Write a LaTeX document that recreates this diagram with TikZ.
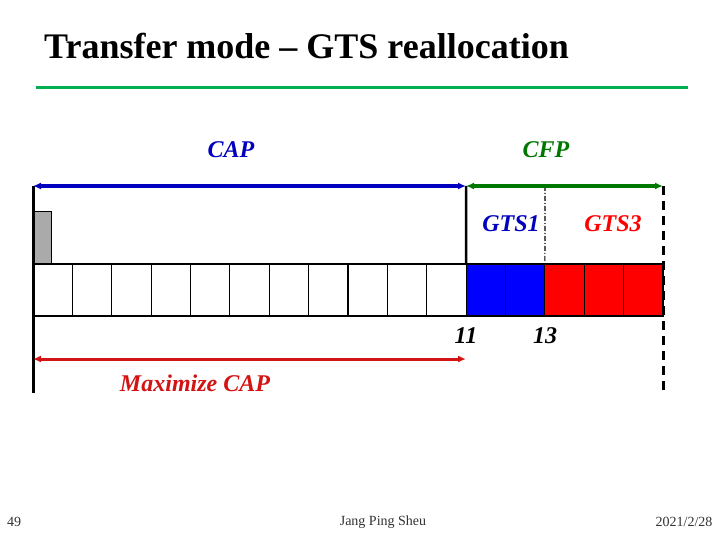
\documentclass[tikz,border=0pt]{standalone}
\usepackage{fontspec}
\setmainfont{Liberation Serif}
\usetikzlibrary{arrows.meta,positioning,calc}
\definecolor{capblue}{RGB}{0,0,190}
\definecolor{slotblue}{RGB}{0,0,255}
\definecolor{slotred}{RGB}{255,0,0}
\definecolor{cfpgreen}{RGB}{0,120,0}
\definecolor{titlegreen}{RGB}{0,176,80}
\definecolor{maxred}{RGB}{210,20,20}
\definecolor{grayslot}{RGB}{170,170,170}
\begin{document}
\begin{tikzpicture}[x=1pt,y=-1pt,
  slot/.style={draw=black,line width=1.1pt,minimum width=39.375pt,minimum height=52pt,inner sep=0pt,outer sep=0pt,anchor=north west},
  lbl/.style={font=\fontsize{24}{26}\selectfont\bfseries\itshape,inner sep=0pt},
  dbl/.style={{Latex[length=8pt,width=7pt]}-{Latex[length=8pt,width=7pt]},line width=3.2pt},
  foot/.style={font=\fontsize{14}{16}\selectfont,text=black!80,inner sep=0pt}]
\useasboundingbox (0,0) rectangle (720,540);
\fill[white] (0,0) rectangle (720,540);
% title
\node[font=\fontsize{36}{40}\selectfont\bfseries,inner sep=0pt,anchor=base west] (title) at (44,59) {Transfer mode -- GTS reallocation};
\coordinate (tl) at (36,88);
\coordinate (tr) at (688,88);
\draw[titlegreen,line width=3pt] (tl) -- (tr);
% slots
\foreach \i in {1,...,16} {
  \pgfmathsetmacro{\xx}{33+(\i-1)*39.375}
  \node[slot] (s\i) at (\xx,264) {};
}
\foreach \i in {12,13} { \fill[slotblue] (s\i.north west) rectangle (s\i.south east); \draw[line width=1.1pt] (s\i.north west) rectangle (s\i.south east);}
\foreach \i in {14,15,16} { \fill[slotred] (s\i.north west) rectangle (s\i.south east); \draw[line width=1.1pt] (s\i.north west) rectangle (s\i.south east);}
% gray beacon
\node[draw=black,fill=grayslot,line width=1.1pt,minimum width=18pt,minimum height=52pt,inner sep=0pt,anchor=south west] (beacon) at (s1.north west) {};
% coordinates for lines
\coordinate (ltop) at (33,186);
\coordinate (lbot) at (33,393);
\coordinate (mtop) at (466,186);
\coordinate (rtop) at (663,186);
\coordinate (rbot) at (663,393);
\coordinate (gtop) at (545,186);
% vertical lines
\draw[line width=3pt] (ltop) -- (lbot);
\draw[line width=2.5pt] (mtop) -- (s12.north west);
\draw[line width=1.2pt,dash pattern=on 5pt off 2pt on 1pt off 2pt] (gtop) -- (s14.north west);
\draw[line width=3pt,dash pattern=on 9pt off 6pt] (rtop) -- (rbot);
% arrows
\draw[dbl,capblue] (ltop) -- (mtop);
\draw[dbl,cfpgreen] (mtop) -- (rtop);
\coordinate (ml) at (33,359);
\coordinate (mr) at (466,359);
\draw[dbl,maxred,line width=3pt] (ml) -- (mr);
% labels
\node[lbl,text=capblue] (cap) at (231,150) {CAP};
\node[lbl,text=cfpgreen] (cfp) at (546,150) {CFP};
\node[lbl,text=capblue] (gts1) at (511,224) {GTS1};
\node[lbl,text=slotred] (gts3) at (613,224) {GTS3};
\node[lbl] (n11) at (466,336) {11};
\node[lbl] (n13) at (545,336) {13};
\node[lbl,text=maxred] (maxcap) at (195,383) {Maximize CAP};
% footer
\node[foot] (pg) at (14,522) {49};
\node[foot] (auth) at (383,522) {Jang Ping Sheu};
\node[foot] (date) at (684,522) {2021/2/28};
\end{tikzpicture}
\end{document}
